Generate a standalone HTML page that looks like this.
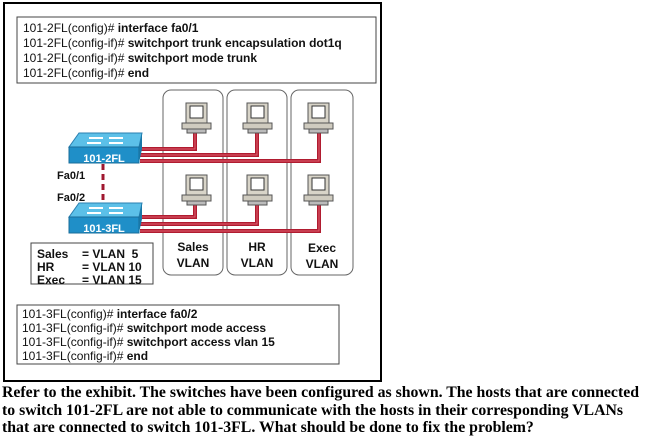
<!DOCTYPE html>
<html><head><meta charset="utf-8"><style>
html,body{margin:0;padding:0;background:#fff;width:648px;height:444px;overflow:hidden}
svg{position:absolute;left:0;top:0}
.q{position:absolute;left:2px;top:384px;font:bold 15.8px "Liberation Serif",serif;line-height:17.5px;color:#000;white-space:nowrap}
</style></head><body>
<svg width="648" height="444" xmlns="http://www.w3.org/2000/svg" font-family="Liberation Sans, sans-serif">
<defs>
<g id="pc">
<rect x="-10" y="0" width="21" height="20" fill="#d8d4c8" stroke="#555" stroke-width="1"/>
<rect x="-6" y="3" width="13" height="12" fill="#fff" stroke="#333" stroke-width="1"/>
<rect x="-14" y="20" width="29" height="6" fill="#cfcbbf" stroke="#555" stroke-width="1"/>
<rect x="-9" y="26" width="19" height="4" fill="#bbb" stroke="#555" stroke-width="1"/>
</g>
<g id="sw">
<polygon points="0,14 10,0 73,0 70,14" fill="#5cc0e8" stroke="#2a7fb0"/>
<rect x="0" y="14" width="70" height="16" fill="#1f8fc8" stroke="#1a6c9a"/>
<polygon points="70,14 73,0 73,16 70,30" fill="#1878a8"/>
<path d="M20 5 h14 M40 5 h14 M18 10 h14 M40 10 h14" stroke="#fff" stroke-width="2"/>
</g>
</defs>
<rect x="4" y="3" width="377" height="378" fill="#fff" stroke="#000" stroke-width="2"/>
<rect x="17" y="17" width="359" height="66" fill="#fff" stroke="#444" stroke-width="1"/>
<g font-size="12" fill="#111">
<text x="23" y="32">101-2FL(config)# <tspan font-weight="bold">interface fa0/1</tspan></text>
<text x="23" y="47">101-2FL(config-if)# <tspan font-weight="bold">switchport trunk encapsulation dot1q</tspan></text>
<text x="23" y="62">101-2FL(config-if)# <tspan font-weight="bold">switchport mode trunk</tspan></text>
<text x="23" y="77">101-2FL(config-if)# <tspan font-weight="bold">end</tspan></text>
</g>
<rect x="163" y="90" width="60" height="185" rx="8" fill="none" stroke="#666"/>
<rect x="227" y="90" width="60" height="185" rx="8" fill="none" stroke="#666"/>
<rect x="291" y="90" width="62" height="185" rx="8" fill="none" stroke="#666"/>
<g stroke="#b01c30" stroke-width="4" fill="none">
<path d="M140 149 H195 V133"/>
<path d="M140 155 H257 V133"/>
<path d="M140 161 H319 V133"/>
<path d="M140 217 H195 V205"/>
<path d="M140 224 H257 V205"/>
<path d="M140 231 H319 V205"/>
</g>
<g stroke="#e06070" stroke-width="1" fill="none">
<path d="M140 149 H195 V133"/><path d="M140 155 H257 V133"/><path d="M140 161 H319 V133"/>
<path d="M140 217 H195 V205"/><path d="M140 224 H257 V205"/><path d="M140 231 H319 V205"/>
</g>
<use href="#pc" x="196" y="103"/><use href="#pc" x="257" y="103"/><use href="#pc" x="318" y="103"/>
<use href="#pc" x="196" y="175"/><use href="#pc" x="257" y="175"/><use href="#pc" x="318" y="175"/>
<line x1="103" y1="164" x2="103" y2="205" stroke="#a01830" stroke-width="3" stroke-dasharray="6,4"/>
<use href="#sw" x="69" y="133"/>
<use href="#sw" x="69" y="203"/>
<g font-weight="bold" font-size="11" fill="#fff" text-anchor="middle">
<text x="104" y="162">101-2FL</text><text x="104" y="232">101-3FL</text>
</g>
<g font-weight="bold" font-size="11" fill="#111">
<text x="57" y="179">Fa0/1</text><text x="57" y="201">Fa0/2</text>
</g>
<rect x="31" y="243" width="122" height="41" fill="#fff" stroke="#444"/>
<g font-weight="bold" font-size="12" fill="#111">
<text x="37" y="258">Sales</text><text x="82" y="258">= VLAN&#160;&#160;5</text>
<text x="37" y="271">HR</text><text x="82" y="271">= VLAN 10</text>
<text x="37" y="284">Exec</text><text x="82" y="284">= VLAN 15</text>
</g>
<g font-weight="bold" font-size="12" fill="#111" text-anchor="middle">
<text x="193" y="251">Sales</text><text x="193" y="267">VLAN</text>
<text x="257" y="251">HR</text><text x="257" y="267">VLAN</text>
<text x="322" y="252">Exec</text><text x="322" y="268">VLAN</text>
</g>
<rect x="17" y="305" width="322" height="59" fill="#fff" stroke="#444"/>
<g font-size="12" fill="#111">
<text x="22" y="318">101-3FL(config)# <tspan font-weight="bold">interface fa0/2</tspan></text>
<text x="22" y="332">101-3FL(config-if)# <tspan font-weight="bold">switchport mode access</tspan></text>
<text x="22" y="346">101-3FL(config-if)# <tspan font-weight="bold">switchport access vlan 15</tspan></text>
<text x="22" y="360">101-3FL(config-if)# <tspan font-weight="bold">end</tspan></text>
</g>
</svg>
<div class="q">Refer to the exhibit. The switches have been configured as shown. The hosts that are connected<br>to switch 101-2FL are not able to communicate with the hosts in their corresponding VLANs<br>that are connected to switch 101-3FL. What should be done to fix the problem?</div>
</body></html>
